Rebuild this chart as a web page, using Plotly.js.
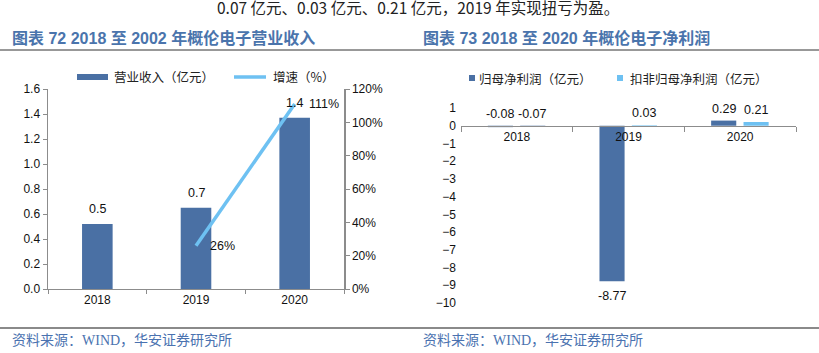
<!DOCTYPE html>
<html>
<head>
<meta charset="utf-8">
<script src="https://cdn.plot.ly/plotly-3.0.1.min.js"></script>
<style>html,body{margin:0;padding:0;background:#fff;}#chart{width:819px;height:353px;}</style>
</head>
<body>
<div id="chart"></div>
<script>
// ---- data ----
const years = ['2018', '2019', '2020'];
const revenue = [0.52, 0.65, 1.37];          // 营业收入（亿元）
const revenueLabels = ['0.5', '0.7', '1.4'];
const growthYears = ['2019', '2020'];
const growth = [0.26, 1.11];                 // 增速（%）
const growthLabels = ['26%', '111%'];
const netProfit = [-0.08, -8.77, 0.29];      // 归母净利润（亿元）
const netProfitAdj = [-0.07, 0.03, 0.21];    // 扣非归母净利润（亿元）
const leftTicks = [0, 0.2, 0.4, 0.6, 0.8, 1.0, 1.2, 1.4, 1.6];
const rightTicks = [-10, -9, -8, -7, -6, -5, -4, -3, -2, -1, 0, 1];

// ---- style / layout helpers ----
const W = 819, H = 353;
const px = x => x / W;
const py = y => 1 - y / H;
const DARK = '#4a70a4';
const LIGHT = '#6ec1f2';
const AXIS = '#8c8c8c';
const NUM_FONT = 'Liberation Sans, Arial, Noto Sans CJK SC, sans-serif';
const CJK_FONT = 'Noto Sans CJK SC, Liberation Sans, sans-serif';
const idx = c => years.indexOf(c);

const rYlo = -10, rYhi = 1;
const rDomain = [py(303), py(108)];
const zeroPos = rDomain[0] + (0 - rYlo) / (rYhi - rYlo) * (rDomain[1] - rDomain[0]);

const traces = [
  { type: 'bar', x: years, y: revenue, xaxis: 'x', yaxis: 'y', width: 0.31,
    marker: { color: DARK }, showlegend: false, hoverinfo: 'skip' },
  { type: 'scatter', mode: 'lines', x: growthYears, y: growth, xaxis: 'x', yaxis: 'y2',
    line: { color: LIGHT, width: 3.5 }, showlegend: false, hoverinfo: 'skip' },
  { type: 'bar', x: years, y: netProfit, xaxis: 'x3', yaxis: 'y3', width: 0.225, offset: -0.26,
    marker: { color: DARK }, showlegend: false, hoverinfo: 'skip' },
  { type: 'bar', x: years, y: netProfitAdj, xaxis: 'x3', yaxis: 'y3', width: 0.225, offset: 0.03,
    marker: { color: [DARK, LIGHT, LIGHT] }, showlegend: false, hoverinfo: 'skip' }
];

const annotations = [];
const lblFont = { family: NUM_FONT, size: 12.5, color: '#111' };
// revenue labels
years.forEach((c, i) => annotations.push({ xref: 'x', yref: 'y', x: i, y: revenue[i], text: revenueLabels[i],
  showarrow: false, yanchor: 'bottom', yshift: 6, font: lblFont }));
// growth labels
growthYears.forEach((c, i) => annotations.push({ xref: 'x', yref: 'y2', x: idx(c), y: growth[i], text: growthLabels[i],
  showarrow: false, xanchor: 'left', xshift: 12, font: lblFont }));
// net profit labels
const fmt = v => v.toFixed(2);
[[netProfit, -0.147], [netProfitAdj, 0.142]].forEach(([arr, off]) => {
  arr.forEach((v, i) => {
    const big = v < -1;
    annotations.push({ xref: 'x3', yref: 'y3', x: i + off, y: big ? v : Math.max(v, 0), text: fmt(v),
      showarrow: false, yanchor: big ? 'top' : 'bottom', yshift: big ? -6 : 3, font: lblFont });
  });
});
// headings, top text, footers, legends
const FOOT_FONT = { family: 'Liberation Serif, Noto Sans CJK SC, serif', size: 14, color: '#4a72b0' };
const LEG_FONT = { family: CJK_FONT, size: 12.5, color: '#222' };
const HEAD_FONT = { family: NUM_FONT, size: 16, color: '#4a74ac' };
annotations.push(
  { xref: 'paper', yref: 'paper', x: px(418), y: py(7), text: '0.07 亿元、0.03 亿元、0.21 亿元，2019 年实现扭亏为盈。',
    showarrow: false, xanchor: 'center', yanchor: 'middle', font: { family: CJK_FONT, size: 15.5, color: '#222' } },
  { xref: 'paper', yref: 'paper', x: px(10), y: py(38), text: '<b>图表 72 2018 至 2002 年概伦电子营业收入</b>',
    showarrow: false, xanchor: 'left', yanchor: 'middle', font: HEAD_FONT },
  { xref: 'paper', yref: 'paper', x: px(421), y: py(38), text: '<b>图表 73 2018 至 2020 年概伦电子净利润</b>',
    showarrow: false, xanchor: 'left', yanchor: 'middle', font: HEAD_FONT },
  { xref: 'paper', yref: 'paper', x: px(10), y: py(340), text: '资料来源：WIND，华安证券研究所',
    showarrow: false, xanchor: 'left', yanchor: 'middle', font: FOOT_FONT },
  { xref: 'paper', yref: 'paper', x: px(421), y: py(340), text: '资料来源：WIND，华安证券研究所',
    showarrow: false, xanchor: 'left', yanchor: 'middle', font: FOOT_FONT },
  { xref: 'paper', yref: 'paper', x: px(112), y: py(77), text: '营业收入（亿元）', showarrow: false, xanchor: 'left', yanchor: 'middle', font: LEG_FONT },
  { xref: 'paper', yref: 'paper', x: px(271), y: py(77), text: '增速（%）', showarrow: false, xanchor: 'left', yanchor: 'middle', font: LEG_FONT },
  { xref: 'paper', yref: 'paper', x: px(477), y: py(78), text: '归母净利润（亿元）', showarrow: false, xanchor: 'left', yanchor: 'middle', font: LEG_FONT },
  { xref: 'paper', yref: 'paper', x: px(628), y: py(78), text: '扣非归母净利润（亿元）', showarrow: false, xanchor: 'left', yanchor: 'middle', font: LEG_FONT }
);

const shapes = [
  { type: 'line', xref: 'paper', yref: 'paper', x0: 0, x1: 1, y0: py(50), y1: py(50), line: { color: '#333', width: 1 } },
  { type: 'line', xref: 'paper', yref: 'paper', x0: 0, x1: 1, y0: py(328), y1: py(328), line: { color: '#8a8a8a', width: 2 } },
  { type: 'rect', xref: 'paper', yref: 'paper', x0: px(77), x1: px(108), y0: py(80), y1: py(74), fillcolor: DARK, line: { width: 0 } },
  { type: 'line', xref: 'paper', yref: 'paper', x0: px(234), x1: px(266), y0: py(77), y1: py(77), line: { color: LIGHT, width: 3.5 } },
  { type: 'rect', xref: 'paper', yref: 'paper', x0: px(469), x1: px(475), y0: py(81), y1: py(75), fillcolor: DARK, line: { width: 0 } },
  { type: 'rect', xref: 'paper', yref: 'paper', x0: px(617), x1: px(623), y0: py(81), y1: py(75), fillcolor: LIGHT, line: { width: 0 } }
];

const tickFont = { family: NUM_FONT, size: 12, color: '#111' };
const layout = {
  width: W, height: H,
  margin: { l: 0, r: 0, t: 0, b: 0 },
  paper_bgcolor: '#fff', plot_bgcolor: 'rgba(0,0,0,0)',
  showlegend: false,
  barmode: 'overlay',
  xaxis: { domain: [px(48), px(344)], anchor: 'y', type: 'category', range: [-0.5, 2.5],
    showline: true, linecolor: AXIS, linewidth: 1, ticks: 'outside', tickson: 'boundaries', ticklen: 4, tickcolor: AXIS,
    showgrid: false, zeroline: false, tickfont: tickFont, fixedrange: true },
  yaxis: { domain: [py(289), py(89)], anchor: 'x', range: [0, 1.6], tickvals: leftTicks, tickformat: '.1f',
    showline: true, linecolor: AXIS, linewidth: 1.5, ticks: 'outside', ticklen: 4, tickcolor: AXIS,
    showgrid: false, zeroline: false, tickfont: tickFont, fixedrange: true },
  yaxis2: { overlaying: 'y', side: 'right', anchor: 'x', range: [0, 1.2], dtick: 0.2, tickformat: '.0%',
    showline: true, linecolor: AXIS, linewidth: 1.5, ticks: 'outside', ticklen: 4, tickcolor: AXIS,
    showgrid: false, zeroline: false, tickfont: tickFont, fixedrange: true },
  xaxis3: { domain: [px(461), px(796)], anchor: 'free', position: zeroPos, type: 'category', range: [-0.5, 2.5],
    showline: true, linecolor: AXIS, linewidth: 1, ticks: 'outside', tickson: 'boundaries', ticklen: 5, tickcolor: AXIS,
    showgrid: false, zeroline: false, tickfont: tickFont, fixedrange: true },
  yaxis3: { domain: rDomain, anchor: 'x3', range: [rYlo, rYhi], tickvals: rightTicks,
    showline: false, ticks: '', showgrid: false, zeroline: false, tickfont: tickFont, ticklabelstandoff: 4, fixedrange: true },
  annotations: annotations,
  shapes: shapes
};

Plotly.newPlot('chart', traces, layout, { staticPlot: true, displayModeBar: false });
</script>
</body>
</html>
